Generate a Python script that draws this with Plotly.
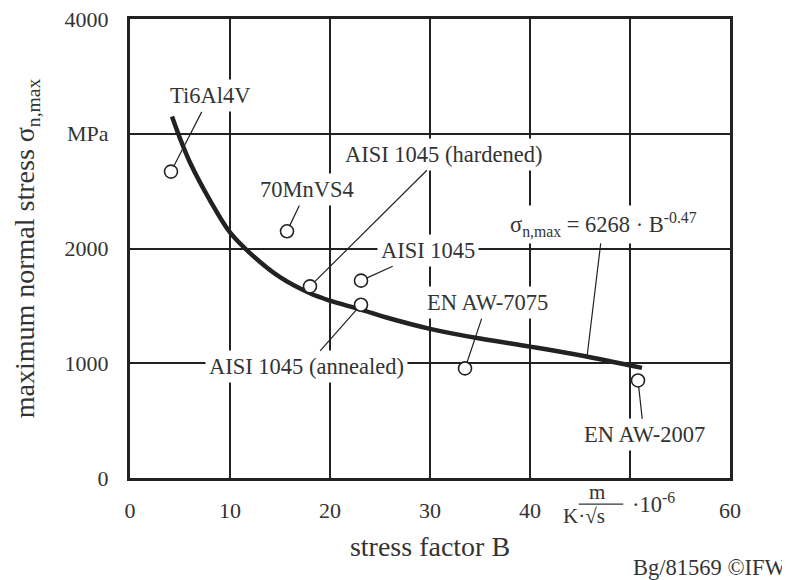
import plotly.graph_objects as go

# ---- data ----
materials = ["Ti6Al4V", "70MnVS4", "AISI 1045 (hardened)", "AISI 1045",
             "AISI 1045 (annealed)", "EN AW-7075", "EN AW-2007"]
stress_factor = [4.1, 15.7, 18.0, 23.1, 23.1, 33.5, 50.8]
max_stress = [2670, 2150, 1670, 1720, 1510, 955, 850]

# label (text) positions in data units
label_x = [8.0, 17.7, 31.3, 29.8, 17.6, 35.7, 51.4]
label_y = [3330, 2515, 2821, 1985, 969, 1528, 376]

# fitted curve points
curve_B = [4.2, 5, 6, 8, 10, 12, 15, 18, 20, 23, 26, 30, 35, 40, 45, 51.2]
curve_sigma = [3150, 2960, 2750, 2420, 2140, 1960, 1750, 1610, 1545, 1470, 1390, 1300, 1215, 1145, 1070, 960]

formula_text = "σ<sub>n,max</sub> = 6268 · B<sup>-0.47</sup>"
formula_point = [45.7, 1054]
formula_label = [47.3, 2210]

x_ticks = [0, 10, 20, 30, 40, 50, 60]
x_ticktext = ["0", "10", "20", "30", "40", "", "60"]
y_ticks = [0, 1000, 2000, 3000, 4000]
y_ticktext = ["0", "1000", "2000", "MPa", "4000"]

INK = "#222222"
TXT = "#333333"
FONT = "Liberation Serif"
LBL = 22.5

fig = go.Figure()
fig.add_trace(go.Scatter(x=curve_B, y=curve_sigma, mode="lines",
                         line=dict(color=INK, width=4.5, shape="spline"),
                         hoverinfo="skip", showlegend=False))
fig.add_trace(go.Scatter(x=stress_factor, y=max_stress, mode="markers",
                         marker=dict(size=13, color="white",
                                     line=dict(color=INK, width=1.6)),
                         text=materials, showlegend=False))

annotations = []
for name, px, py, lx, ly in zip(materials, stress_factor, max_stress, label_x, label_y):
    annotations.append(dict(x=px, y=py, ax=lx, ay=ly, xref="x", yref="y",
                            axref="x", ayref="y", text=name, showarrow=True,
                            arrowhead=0, arrowwidth=1.2, arrowcolor=INK,
                            standoff=6, bgcolor="white", borderpad=3,
                            font=dict(family=FONT, size=LBL, color=TXT)))
annotations.append(dict(x=formula_point[0], y=formula_point[1],
                        ax=formula_label[0], ay=formula_label[1],
                        xref="x", yref="y", axref="x", ayref="y",
                        text=formula_text, showarrow=True, arrowhead=0,
                        arrowwidth=1.2, arrowcolor=INK, standoff=0,
                        bgcolor="white", borderpad=3,
                        font=dict(family=FONT, size=LBL, color=TXT)))
# unit label at x=50 position
annotations += [
    dict(x=0.795, y=-0.031, xref="paper", yref="paper", text="m", showarrow=False,
         font=dict(family=FONT, size=21, color=TXT), yanchor="middle"),
    dict(x=0.795, y=-0.083, xref="paper", yref="paper", text="K·√s", showarrow=False,
         font=dict(family=FONT, size=21, color=TXT), yanchor="middle"),
    dict(x=0.833, y=-0.054, xref="paper", yref="paper", text="·10<sup>-6</sup>",
         showarrow=False, xanchor="left",
         font=dict(family=FONT, size=LBL, color=TXT), yanchor="middle"),
    dict(x=1.097, y=-0.196, xref="paper", yref="paper", text="Bg/81569 ©IFW",
         showarrow=False, xanchor="right", yanchor="middle",
         font=dict(family=FONT, size=LBL, color=TXT)),
]

# page body adds an 8px offset, so the figure is 8px smaller and shifted
fig.update_layout(
    width=782, height=572,
    margin=dict(l=122, r=60, t=11, b=102, autoexpand=False),
    paper_bgcolor="white", plot_bgcolor="white",
    font=dict(family=FONT, color=TXT),
    annotations=annotations,
    shapes=[dict(type="line", xref="paper", yref="paper", x0=0.748, x1=0.822,
                 y0=-0.057, y1=-0.057, line=dict(color=TXT, width=1.2))],
)
fig.update_xaxes(range=[0, 60], tickvals=x_ticks, ticktext=x_ticktext,
                 showgrid=True, gridcolor=INK, gridwidth=2, zeroline=False,
                 showline=True, linecolor=INK, linewidth=3, mirror=True,
                 ticks="", ticklabelstandoff=11, automargin=False,
                 ticklabeloverflow="allow",
                 tickfont=dict(family=FONT, size=22, color=TXT),
                 title=dict(text="stress factor B", standoff=14,
                            font=dict(family=FONT, size=28, color=TXT)))
fig.update_yaxes(range=[0, 4000], tickvals=y_ticks, ticktext=y_ticktext,
                 showgrid=True, gridcolor=INK, gridwidth=2, zeroline=False,
                 showline=True, linecolor=INK, linewidth=3, mirror=True,
                 ticks="", ticklabelstandoff=14, automargin=False,
                 ticklabeloverflow="allow",
                 tickfont=dict(family=FONT, size=22, color=TXT),
                 title=dict(text="maximum normal stress σ<sub>n,max</sub>", standoff=22,
                            font=dict(family=FONT, size=28, color=TXT)))

fig.write_html("out.html")
